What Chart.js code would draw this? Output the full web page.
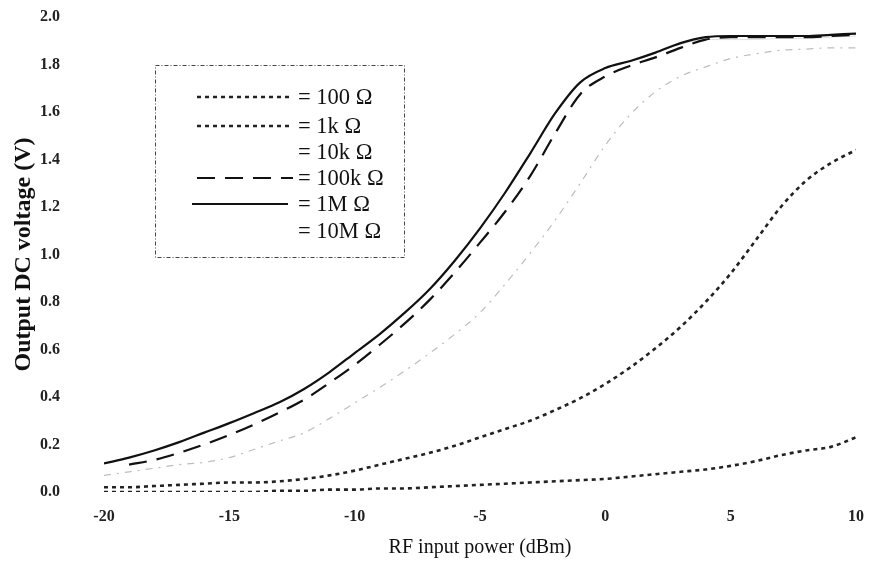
<!DOCTYPE html>
<html><head><meta charset="utf-8">
<script src="https://cdn.jsdelivr.net/npm/chart.js@4/dist/chart.umd.min.js"></script>
<style>html,body{margin:0;padding:0;background:#fff;}#wrap{width:870px;height:562px;}</style>
</head><body><div id="wrap"><canvas id="c" width="870" height="562"></canvas></div>
<script>
// RF input power (dBm)
const xValues = [-20,-19,-18,-17,-16,-15,-14,-13,-12,-11,-10,-9,-8,-7,-6,-5,-4,-3,-2,-1,0,1,2,3,4,5,6,7,8,9,10];
// Output DC voltage (V) per load
const v100 = [0.0,0.0,0.0,0.0,0.0,0.0,0.0,0.005,0.005,0.01,0.01,0.015,0.015,0.02,0.025,0.03,0.035,0.04,0.045,0.05,0.055,0.065,0.075,0.085,0.095,0.11,0.13,0.155,0.175,0.19,0.23];
const v1k = [0.02,0.02,0.025,0.03,0.035,0.04,0.04,0.045,0.055,0.07,0.09,0.115,0.14,0.165,0.195,0.23,0.265,0.30,0.345,0.395,0.455,0.525,0.605,0.695,0.80,0.92,1.06,1.20,1.31,1.385,1.44];
const v10k = [0.07,0.085,0.10,0.115,0.125,0.145,0.18,0.215,0.25,0.31,0.375,0.44,0.51,0.585,0.665,0.755,0.875,1.005,1.145,1.30,1.46,1.59,1.685,1.75,1.79,1.825,1.845,1.86,1.865,1.87,1.87];
const v100k = [null,0.115,0.135,0.165,0.20,0.24,0.285,0.335,0.39,0.46,0.535,0.62,0.71,0.81,0.925,1.05,1.18,1.33,1.51,1.675,1.75,1.795,1.83,1.87,1.905,1.915,1.915,1.915,1.915,1.92,1.925];
const v1M = [0.12,0.145,0.175,0.21,0.25,0.29,0.333,0.378,0.435,0.505,0.585,0.665,0.755,0.855,0.975,1.11,1.26,1.425,1.595,1.725,1.785,1.815,1.85,1.89,1.915,1.92,1.92,1.92,1.92,1.925,1.93];
const v10M = [0.12,0.145,0.175,0.21,0.25,0.29,0.333,0.378,0.435,0.505,0.585,0.665,0.755,0.855,0.975,1.11,1.26,1.425,1.595,1.725,1.785,1.815,1.85,1.885,1.905,1.905,1.905,1.91,1.91,1.915,1.92];
const seriesLabels = ['= 100 Ω','= 1k Ω','= 10k Ω','= 100k Ω','= 1M Ω','= 10M Ω'];
const yTicks = [0,0.2,0.4,0.6,0.8,1.0,1.2,1.4,1.6,1.8,2.0];
const xTicks = [-20,-15,-10,-5,0,5,10];

const toPts = arr => xValues.map((x,i)=>({x:x,y:arr[i]}));
const styles = [
  {borderColor:'#222',borderWidth:2.6,borderDash:[4,4]},
  {borderColor:'#222',borderWidth:2.6,borderDash:[4,4]},
  {borderColor:'#bdbdbd',borderWidth:1.2,borderDash:[7,6,2,6]},
  {borderColor:'#111',borderWidth:2.2,borderDash:[18,10]},
  {borderColor:'#111',borderWidth:2.2,borderDash:[]},
  {borderColor:'rgba(0,0,0,0.12)',borderWidth:1,borderDash:[]}
];
const series = [v100,v1k,v10k,v100k,v1M,v10M];
const datasets = series.map((s,i)=>Object.assign({
  label: seriesLabels[i], data: toPts(s), pointRadius:0, fill:false,
  cubicInterpolationMode:'monotone', spanGaps:false
}, styles[i]));

const serif = "'Liberation Serif','Times New Roman',serif";
const legendSamples = [
  {x0:197,x1:293,show:true},{x0:197,x1:293,show:true},{x0:197,x1:293,show:false},
  {x0:197,x1:293,show:true},{x0:192,x1:288,show:true},{x0:192,x1:288,show:false}
];
const legendRows = [97,126,152,178,204,231];
const legendBox = {
  id:'legendBox',
  afterDraw(chart){
    const ctx = chart.ctx;
    ctx.save();
    ctx.strokeStyle='#444'; ctx.lineWidth=1; ctx.setLineDash([4,2,1,2]);
    ctx.strokeRect(155.5,65.5,249,192);
    ctx.font = "22.5px "+serif;
    ctx.textBaseline='middle'; ctx.textAlign='left';
    chart.data.datasets.forEach((ds,i)=>{
      const y = legendRows[i];
      const s = legendSamples[i];
      if (s.show){
        ctx.beginPath();
        ctx.strokeStyle = ds.borderColor; ctx.lineWidth = ds.borderWidth;
        ctx.setLineDash(ds.borderDash||[]);
        ctx.moveTo(s.x0,y); ctx.lineTo(s.x1,y); ctx.stroke();
      }
      ctx.setLineDash([]);
      ctx.fillStyle='#111';
      ctx.fillText(ds.label, 298, y+1);
    });
    ctx.restore();
  }
};

new Chart(document.getElementById('c'), {
  type:'line',
  data:{datasets},
  options:{
    responsive:false, animation:false,
    layout:{padding:{left:0,right:14,top:17,bottom:0}},
    plugins:{legend:{display:false},tooltip:{enabled:false}},
    scales:{
      x:{type:'linear',min:-20,max:10,
        grid:{display:false,drawTicks:false},border:{display:false},
        afterBuildTicks(scale){scale.ticks = xTicks.map(v=>({value:v}));},
        afterFit(scale){scale.height = 70; scale.paddingLeft = 0; scale.paddingRight = 0;},
        ticks:{padding:15,color:'#222',font:{family:serif,size:16,weight:'bold'},maxRotation:0,
          callback:v=>String(v)},
        title:{display:true,text:'RF input power (dBm)',color:'#111',
          font:{family:serif,size:20,weight:'normal'},padding:{top:0,bottom:2}}
      },
      y:{type:'linear',min:0,max:2,
        grid:{display:false,drawTicks:false},border:{display:false},
        afterBuildTicks(scale){scale.ticks = yTicks.map(v=>({value:v}));},
        afterFit(scale){scale.width = 104; scale.paddingTop = 0; scale.paddingBottom = 0;},
        ticks:{padding:44,color:'#222',font:{family:serif,size:16,weight:'bold'},
          callback:v=>Number(v).toFixed(1)},
        title:{display:true,text:'Output DC voltage (V)',color:'#111',
          font:{family:serif,size:24,weight:'bold'},padding:{top:9,bottom:0}}
      }
    }
  },
  plugins:[legendBox]
});
</script></body></html>
